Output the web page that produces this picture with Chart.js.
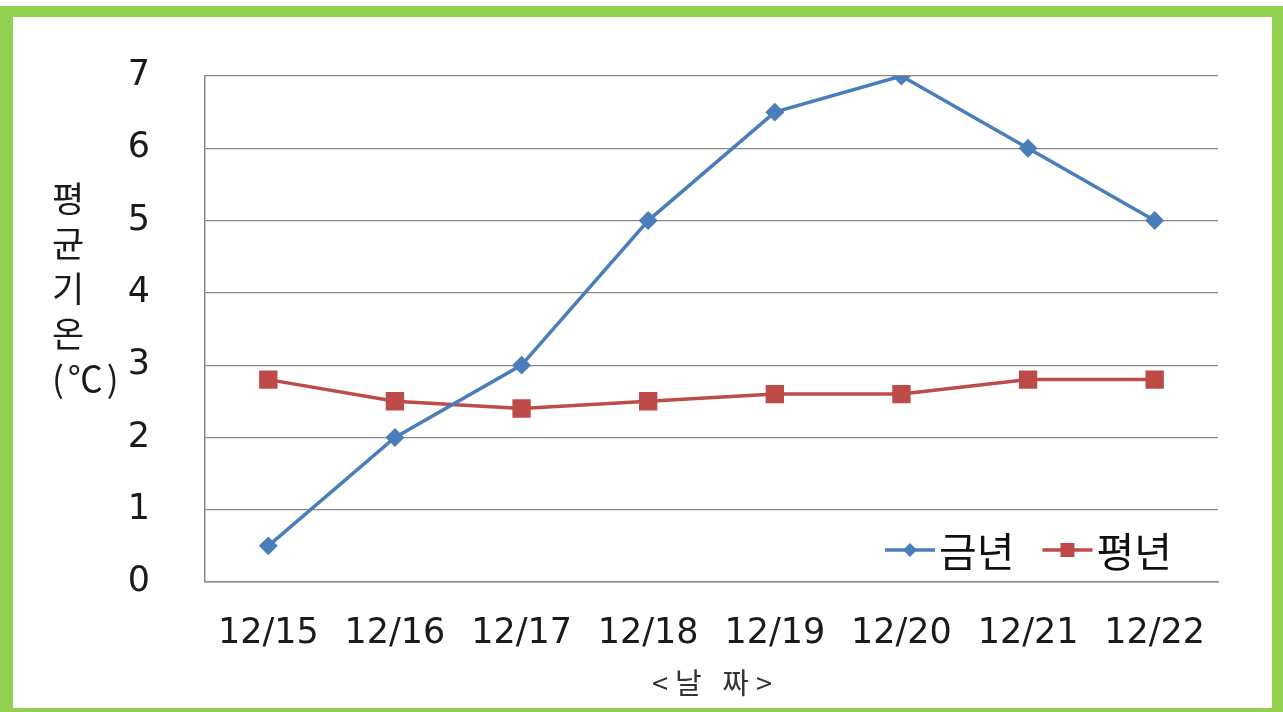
<!DOCTYPE html>
<html>
<head>
<meta charset="utf-8">
<script src="https://cdn.jsdelivr.net/npm/chart.js@4"></script>
<style>
    body { margin: 0; background: #fff; }
    #frame {
        position: absolute; left: 0; top: 6px; width: 1283px; height: 706px;
        box-sizing: border-box; border: solid #92d050;
        border-width: 11px 11px 4px 13px;
    }
    #chart { position: absolute; left: 0; top: 0; }
</style>
</head>
<body>
<div id="frame"></div>
<canvas id="chart" width="1283" height="712"></canvas>
<script>
const dates = ['12/15', '12/16', '12/17', '12/18', '12/19', '12/20', '12/21', '12/22'];
const thisYear = [0.5, 2, 3, 5, 6.5, 7, 6, 5];
const normalYear = [2.8, 2.5, 2.4, 2.5, 2.6, 2.6, 2.8, 2.8];
const seriesNames = ['금년', '평년'];
const yTitleParts = ['평', '균', '기', '온', '(℃)'];
const xTitle = '<날 짜>';

const KR = '"Noto Sans CJK KR", "Noto Sans", sans-serif';
const NUM = '"DejaVu Sans", "Noto Sans", sans-serif';

// axis titles: stacked y title and letter-spaced x title
const titlesPlugin = {
    id: 'titles',
    afterDraw(chart) {
        const ctx = chart.ctx;
        ctx.save();
        ctx.fillStyle = '#1a1a1a';
        ctx.font = '35px ' + KR;
        ctx.textAlign = 'left';
        ctx.textBaseline = 'middle';
        yTitleParts.forEach((t, i) => {
            ctx.letterSpacing = t.length > 1 ? '4px' : '0px';
            ctx.fillText(t, 52, 199 + i * 45);
        });
        ctx.fillStyle = '#333';
        ctx.font = '29px ' + KR;
        ctx.letterSpacing = '7px';
        ctx.textAlign = 'center';
        const a = chart.chartArea;
        ctx.fillText(xTitle, (a.left + a.right) / 2 + 4, 683);
        ctx.restore();
    }
};

// legend inside the plot, bottom right
const legendPlugin = {
    id: 'innerLegend',
    afterDraw(chart) {
        const ctx = chart.ctx;
        const y = 550;
        let x = 885;
        ctx.save();
        ctx.font = '41px ' + KR;
        ctx.textBaseline = 'middle';
        chart.data.datasets.forEach(ds => {
            ctx.strokeStyle = ds.borderColor;
            ctx.lineWidth = 3.5;
            ctx.beginPath();
            ctx.moveTo(x, y);
            ctx.lineTo(x + 50, y);
            ctx.stroke();
            ctx.fillStyle = ds.backgroundColor;
            ctx.beginPath();
            if (ds.pointStyle === 'rectRot') {
                ctx.moveTo(x + 25, y - 7); ctx.lineTo(x + 32, y);
                ctx.lineTo(x + 25, y + 7); ctx.lineTo(x + 18, y);
            } else {
                ctx.rect(x + 18, y - 7, 14, 14);
            }
            ctx.fill();
            ctx.fillStyle = '#111';
            ctx.fillText(ds.label, x + 54, y + 1);
            x += 54 + ctx.measureText(ds.label).width + 28;
        });
        ctx.restore();
    }
};

new Chart(document.getElementById('chart'), {
    type: 'line',
    data: {
        labels: dates,
        datasets: [
            {
                label: seriesNames[0], data: thisYear,
                borderColor: '#4a7ebb', backgroundColor: '#4a7ebb',
                borderWidth: 3.5, pointStyle: 'rectRot', pointRadius: 7,
                tension: 0
            },
            {
                label: seriesNames[1], data: normalYear,
                borderColor: '#be4b48', backgroundColor: '#be4b48',
                borderWidth: 3.5, pointStyle: 'rect', pointRadius: 10.5,
                tension: 0
            }
        ]
    },
    options: {
        responsive: false,
        animation: false,
        devicePixelRatio: 1,
        layout: { padding: { top: 72, right: 65, bottom: 0, left: 0 } },
        plugins: { legend: { display: false }, tooltip: { enabled: false } },
        scales: {
            x: {
                offset: true,
                grid: { display: false },
                border: { display: true, color: '#878787', width: 1.5 },
                ticks: { color: '#1a1a1a', font: { family: NUM, size: 35 }, padding: 23 },
                afterFit: s => { s.height = 130; }
            },
            y: {
                min: 0, max: 7,
                ticks: { stepSize: 1, color: '#1a1a1a', font: { family: NUM, size: 35 }, padding: 55 },
                grid: { color: '#878787', lineWidth: 1.2, drawTicks: false },
                border: { display: true, color: '#878787', width: 1.5 },
                afterFit: s => { s.width = 205; }
            }
        }
    },
    plugins: [titlesPlugin, legendPlugin]
});
</script>
</body>
</html>
